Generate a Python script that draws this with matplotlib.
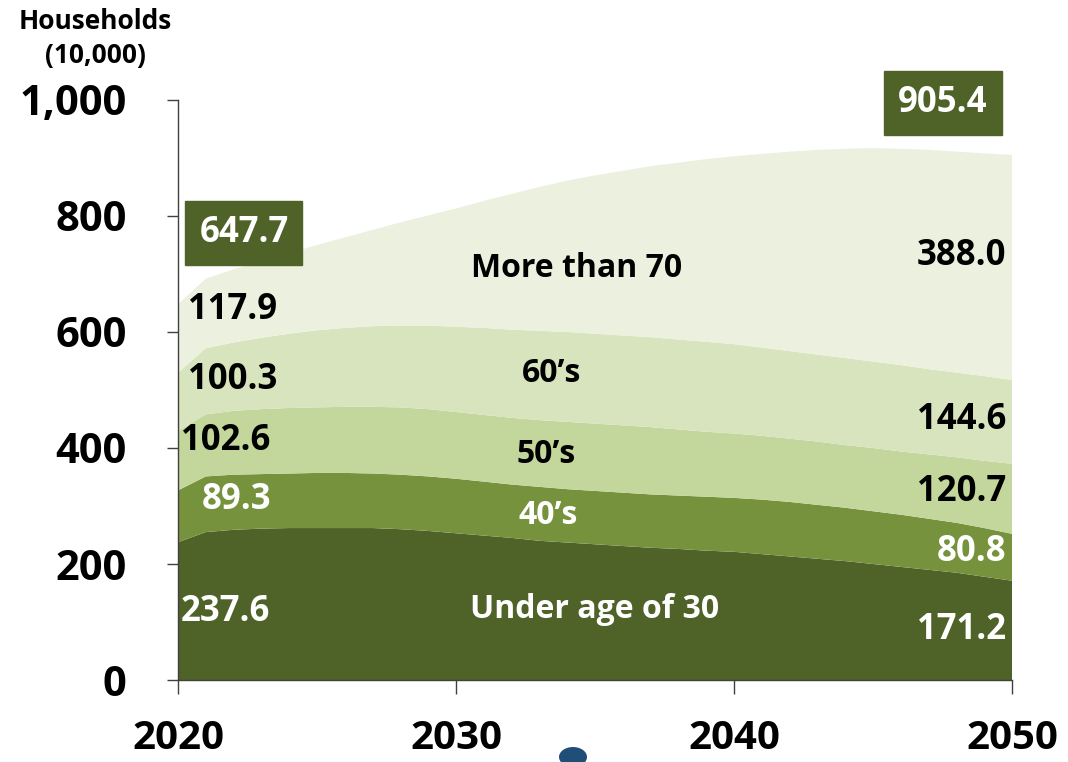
import numpy as np
import matplotlib
matplotlib.use("Agg")
import matplotlib.pyplot as plt
from matplotlib.patches import Circle

years = np.arange(2020, 2051)

# cumulative tops of each band (10,000 households)
top_under30 = [237.6, 255, 259, 261, 262, 262, 262, 262, 260, 257,
               253, 249, 245, 240, 237, 234, 231, 228, 226, 223,
               221, 217, 213, 209, 205, 200, 195, 190, 185, 178, 171.2]
top_40s = [326.9, 351, 354, 355, 356, 357, 357, 356, 354, 351,
           347, 342, 337, 333, 329, 326, 323, 320, 318, 316,
           314, 311, 307, 302, 297, 291, 285, 278, 271, 262, 252.0]
top_50s = [429.5, 458, 464, 467, 469, 470, 471, 471, 470, 467,
           462, 457, 452, 448, 445, 442, 439, 436, 432, 428,
           425, 421, 416, 411, 405, 400, 394, 389, 384, 378, 372.7]
top_60s = [529.8, 572, 582, 590, 597, 603, 607, 610, 611, 611,
           609, 607, 604, 602, 600, 597, 594, 591, 587, 583,
           579, 573, 567, 561, 555, 549, 543, 536, 530, 524, 517.3]
top_total = [647.7, 692, 708, 722, 736, 750, 763, 776, 789, 801,
             813, 826, 838, 850, 861, 870, 878, 886, 892, 898,
             903, 907, 911, 914, 916, 917, 916, 914, 911, 908, 905.4]

bands = ["Under age of 30", "40\u2019s", "50\u2019s", "60\u2019s", "More than 70"]
colors = ["#4f6228", "#76923c", "#c3d69b", "#d7e4bd", "#ebf1de"]

labels_2020 = ["237.6", "89.3", "102.6", "100.3", "117.9"]
labels_2050 = ["171.2", "80.8", "120.7", "144.6", "388.0"]
total_2020 = "647.7"
total_2050 = "905.4"

tops = np.array([top_under30, top_40s, top_50s, top_60s, top_total])
layers = np.diff(np.vstack([np.zeros(len(years)), tops]), axis=0)

plt.rcParams['font.family'] = ['Open Sans', 'DejaVu Sans']

fig = plt.figure(figsize=(10.68, 7.62), dpi=100)
ax = fig.add_axes([0.1667, 0.1076, 0.7809, 0.7612])

ax.stackplot(years, layers, colors=colors, linewidth=0)

ax.set_xlim(2020, 2050)
ax.set_ylim(0, 1000)
ax.set_xticks([2020, 2030, 2040, 2050])
ax.set_yticks([0, 200, 400, 600, 800, 1000])
ax.set_yticklabels(["0", "200", "400", "600", "800", "1,000"])
for s in ["top", "right"]:
    ax.spines[s].set_visible(False)
for s in ["left", "bottom"]:
    ax.spines[s].set_color("#404040")
    ax.spines[s].set_linewidth(1.0)
ax.tick_params(axis="y", direction="out", length=8, width=1, color="#404040",
               labelsize=30, pad=29)
ax.tick_params(axis="x", direction="out", length=10, width=1, color="#404040",
               labelsize=29, pad=18)
for t in ax.get_xticklabels() + ax.get_yticklabels():
    t.set_fontweight("bold")

fig.text(0.089, 0.972, "Households", ha="center", va="center",
         fontsize=19, fontweight="bold")
fig.text(0.089, 0.927, "(10,000)", ha="center", va="center",
         fontsize=19, fontweight="bold")

# left value labels
left_pos = [(2020.1, 117, "white"), (2020.85, 310, "white"),
            (2020.1, 412, "black"), (2020.35, 517, "black"),
            (2020.35, 638, "black")]
for (x, y, c), txt in zip(left_pos, labels_2020):
    ax.text(x, y, txt, color=c, ha="left", va="center", fontsize=25, fontweight="bold")

# right value labels
right_y = [86, 221, 324, 448, 731]
right_c = ["white", "white", "black", "black", "black"]
for y, c, txt in zip(right_y, right_c, labels_2050):
    ax.text(2049.8, y, txt, color=c, ha="right", va="center", fontsize=25,
            fontweight="bold")

# band names
band_pos = [(2035.0, 121, "white"), (2033.3, 283, "white"), (2033.25, 388, "black"),
            (2033.45, 529, "black"), (2034.35, 710, "black")]
for (x, y, c), txt in zip(band_pos, bands):
    ax.text(x, y, txt, color=c, ha="center", va="center", fontsize=23,
            fontweight="bold")

box = dict(boxstyle="square,pad=0.4", facecolor="#4f6228", edgecolor="#4f6228")
ax.text(2022.37, 771, total_2020, color="white", ha="center", va="center",
        fontsize=25, fontweight="bold", bbox=box)
ax.text(2047.52, 995, total_2050, color="white", ha="center", va="center",
        fontsize=25, fontweight="bold", bbox=box, clip_on=False)

fig.patches.append(Circle((573 / 1068, 1 - 757 / 762), 14 / 1068, transform=fig.transFigure,
                          facecolor="#1f4e79", edgecolor="none"))

fig.savefig("out.png", dpi=100)
